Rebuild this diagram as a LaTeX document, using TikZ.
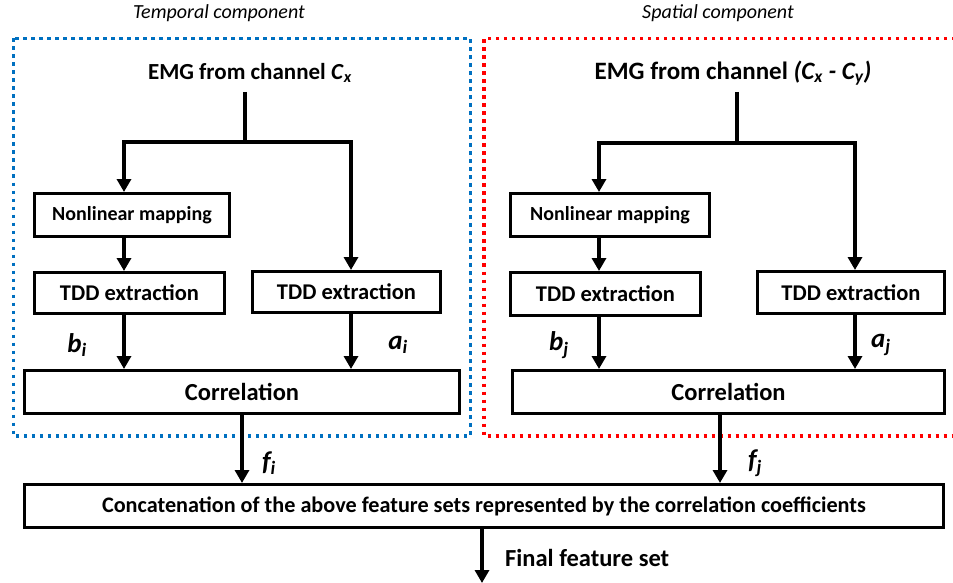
\documentclass[tikz,border=0pt]{standalone}
\usepackage{fontspec}
\setmainfont{Carlito}
\usetikzlibrary{arrows.meta}
\definecolor{tblue}{RGB}{0,112,192}
\definecolor{tred}{RGB}{255,0,0}
\tikzset{
  box/.style={draw=black, line width=3pt, fill=white, inner sep=0pt, font=\bfseries\fontsize{22.5}{26}\selectfont},
  nlbox/.style={box, font=\bfseries\fontsize{20}{23}\selectfont},
  corbox/.style={box, font=\bfseries\fontsize{24.5}{28}\selectfont},
  conn/.style={line width=4pt},
  arr/.style={line width=4pt, -{Triangle[length=13pt,width=14pt]}},
  title/.style={font=\bfseries\fontsize{23}{26}\selectfont, inner sep=0pt},
  lab/.style={font=\bfseries\itshape\fontsize{27}{30}\selectfont, inner sep=0pt},
  comp/.style={font=\itshape\fontsize{20}{23}\selectfont, inner sep=0pt},
  dotline/.style={line width=3.2pt, dash pattern=on 3.3pt off 4.7pt}
}
\begin{document}
\begin{tikzpicture}[x=1pt,y=-1pt]
\useasboundingbox (0,0) rectangle (953,583);
% component titles
\node[comp] (tcomp) at (219,13) {Temporal component};
\node[comp] (scomp) at (718,13) {Spatial component};
% dotted frames
\draw[dotline, tblue] (13.5,38.5) rectangle (470.5,436);
\draw[dotline, tred] (955,38.5) -- (484,38.5) -- (484,436) -- (955,436);
% ---------- temporal ----------
\node[title] (emg1) at (250,73) {EMG from channel \textit{C}\textsubscript{\textit{x}}};
\node[nlbox, minimum width=195pt, minimum height=43pt] (nl1) at (132,215) {Nonlinear mapping};
\node[box, minimum width=190pt, minimum height=41pt] (tb1) at (129.5,293) {TDD extraction};
\node[box, minimum width=188pt, minimum height=41pt] (ta1) at (346.5,292) {TDD extraction};
\node[corbox, minimum width=435pt, minimum height=43pt] (cor1) at (242,392) {Correlation};
\coordinate (t1) at (245,92);
\coordinate (s1) at (245,142);
\coordinate (l1) at (124,142);
\coordinate (r1) at (351,142);
\draw[conn] (t1) -- (s1);
\draw[conn, line cap=rect] (l1) -- (r1);
\draw[arr] (l1) -- (l1 |- nl1.north);
\draw[arr] (r1) -- (r1 |- ta1.north);
\draw[arr] (l1 |- nl1.south) -- (l1 |- tb1.north);
\draw[arr] (l1 |- tb1.south) -- (l1 |- cor1.north);
\draw[arr] (r1 |- ta1.south) -- (r1 |- cor1.north);
\node[lab] (bi) at (77,345) {b\textsubscript{\textit{i}}};
\node[lab] (ai) at (398,345) {a\textsubscript{\textit{i}}};
% ---------- spatial ----------
\node[title, font=\bfseries\fontsize{25}{28}\selectfont] (emg2) at (733,73) {EMG from channel \textit{(C\textsubscript{x} - C\textsubscript{y})}};
\node[nlbox, minimum width=199pt, minimum height=43pt] (nl2) at (610,215) {Nonlinear mapping};
\node[box, minimum width=190pt, minimum height=43pt] (tb2) at (605.5,294) {TDD extraction};
\node[box, minimum width=187pt, minimum height=42pt] (ta2) at (851,292.5) {TDD extraction};
\node[corbox, minimum width=432pt, minimum height=43pt] (cor2) at (728.5,392) {Correlation};
\coordinate (t2) at (737,92);
\coordinate (s2) at (737,143);
\coordinate (l2) at (599,143);
\coordinate (r2) at (855,143);
\draw[conn] (t2) -- (s2);
\draw[conn, line cap=rect] (l2) -- (r2);
\draw[arr] (l2) -- (l2 |- nl2.north);
\draw[arr] (r2) -- (r2 |- ta2.north);
\draw[arr] (l2 |- nl2.south) -- (l2 |- tb2.north);
\draw[arr] (l2 |- tb2.south) -- (l2 |- cor2.north);
\draw[arr] (r2 |- ta2.south) -- (r2 |- cor2.north);
\node[lab] (bj) at (559,345) {b\textsubscript{\textit{j}}};
\node[lab] (aj) at (881,345) {a\textsubscript{\textit{j}}};
% ---------- concatenation ----------
\node[box, minimum width=919pt, minimum height=43pt, font=\bfseries\fontsize{22.2}{25}\selectfont] (cat) at (484,506) {Concatenation of the above feature sets represented by the correlation coefficients};
\coordinate (c1) at (242,0);
\coordinate (c2) at (720,0);
\draw[arr] (c1 |- cor1.south) -- (c1 |- cat.north);
\draw[arr] (c2 |- cor2.south) -- (c2 |- cat.north);
\node[lab] (fi) at (269,463) {f\textsubscript{\textit{i}}};
\node[lab] (fj) at (755,463) {f\textsubscript{\textit{j}}};
\coordinate (fin) at (482,583);
\draw[arr] (fin |- cat.south) -- (fin);
\node[font=\bfseries\fontsize{24.5}{28}\selectfont, anchor=west, inner sep=0pt] (fset) at (505,558) {Final feature set};
\end{tikzpicture}
\end{document}
